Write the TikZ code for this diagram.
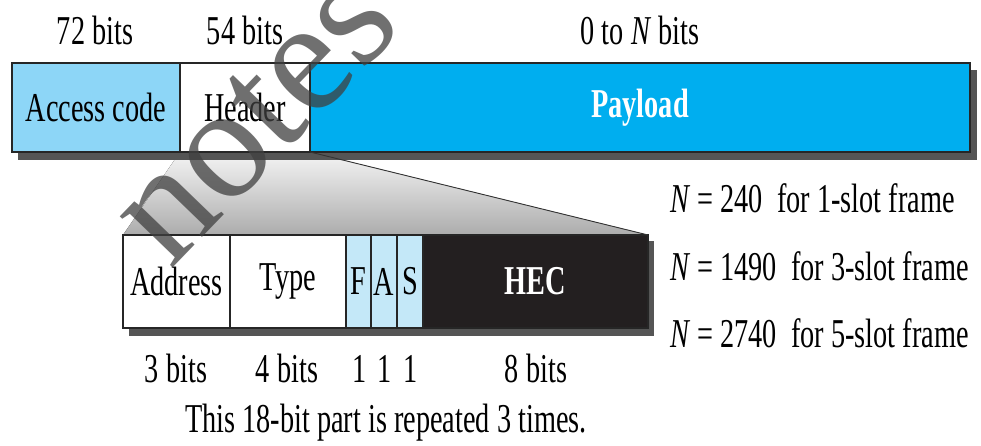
\documentclass[tikz,border=0pt]{standalone}
\usepackage{fontspec}
\setmainfont{Liberation Serif}
\newfontfamily\lblfam[FakeStretch=0.69]{Liberation Serif}
\newfontfamily\wmfam{Liberation Serif}
\newcommand\lblf{\lblfam\fontsize{41}{45}\selectfont}
\usetikzlibrary{backgrounds}
\definecolor{accblue}{HTML}{8DD6F7}
\definecolor{payblue}{HTML}{00AEEF}
\definecolor{fasblue}{HTML}{C4E8F8}
\definecolor{hecblk}{HTML}{231F20}
\definecolor{shadowc}{HTML}{555555}
\begin{document}
\begin{tikzpicture}[x=1pt,y=-1pt,
  fld/.style={draw=black!85, line width=1.3pt, inner sep=0pt, outer sep=0pt,
    anchor=north west, font=\lblf},
  topf/.style={fld, minimum height=89pt},
  botf/.style={fld, minimum height=93pt},
  lbl/.style={anchor=base, inner sep=0pt, font=\lblf},
  lbll/.style={anchor=base west, inner sep=0pt, font=\lblf}]
\useasboundingbox (0,0) rectangle (981,446);
% top frame
\node[topf, fill=accblue, minimum width=168pt] (acc) at (12,63) {Access code};
\node[topf, fill=white, minimum width=130pt] (hdr) at (180,63) {Header};
\node[topf, fill=payblue, minimum width=660pt, text=white] (pay) at (310,63) {\bfseries Payload};
% header detail
\node[botf, fill=white, minimum width=107pt] (addr) at (123,235) {Address};
\node[botf, fill=white, minimum width=116pt] (type) at (230,235) {Type};
\node[botf, fill=fasblue, minimum width=25pt] (f) at (346,235) {F};
\node[botf, fill=fasblue, minimum width=26pt] (a) at (371,235) {A};
\node[botf, fill=fasblue, minimum width=26pt] (s) at (397,235) {S};
\node[botf, fill=hecblk, minimum width=225pt, text=white] (hec) at (423,235) {\bfseries HEC};
\begin{scope}[on background layer]
  \fill[top color=gray!8, bottom color=gray!65] (hdr.south west) -- (hdr.south east) -- (hec.north east) -- (addr.north west) -- cycle;
  \fill[shadowc] ([shift={(6,7)}]acc.north west) rectangle ([shift={(7,8)}]pay.south east);
  \fill[shadowc] ([shift={(6,6)}]addr.north west) rectangle ([shift={(6,8)}]hec.south east);
\end{scope}
\draw[black!80, line width=0.9pt] (hdr.south east) -- (hec.north east);
% sizes
\node[lbl] (l72) at (95,45) {72 bits};
\node[lbl] (l54) at (245,45) {54 bits};
\node[lbl] (lN) at (640,45) {0 to \textit{N} bits};
\node[lbl] (l3) at (176,382) {3 bits};
\node[lbl] (l4) at (287,382) {4 bits};
\node[lbl] (l1a) at (360,382) {1};
\node[lbl] (l1b) at (385,382) {1};
\node[lbl] (l1c) at (411,382) {1};
\node[lbl] (l8) at (536,382) {8 bits};
\node[lbl] (cap) at (386,432) {This 18-bit part is repeated 3 times.};
\node[lbll] (n1) at (670,213) {\textit{N} = 240~~for 1-slot frame};
\node[lbll] (n2) at (670,280) {\textit{N} = 1490~~for 3-slot frame};
\node[lbll] (n3) at (670,347) {\textit{N} = 2740~~for 5-slot frame};
% watermark
\node[rotate=46, font=\wmfam\fontsize{160}{160}\selectfont, text=black!75, opacity=0.75, inner sep=0pt] (wm) at (256,118) {notes};
\end{tikzpicture}
\end{document}
